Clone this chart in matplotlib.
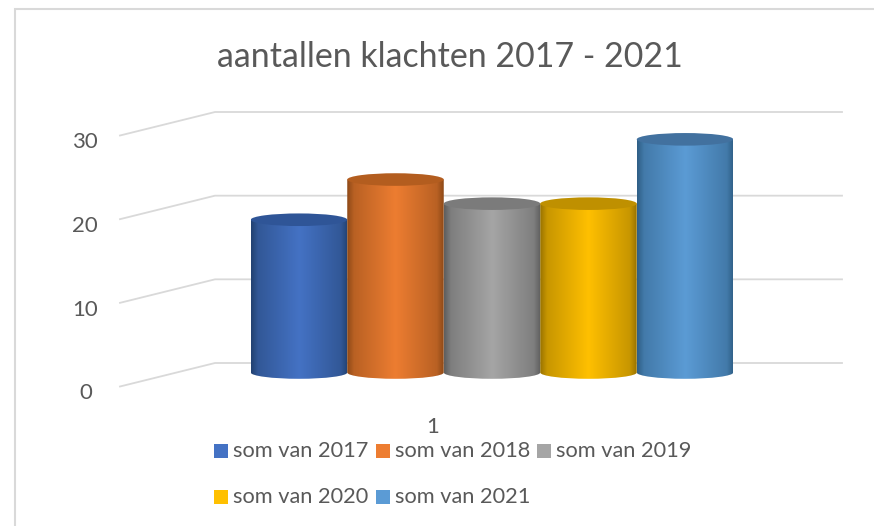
import numpy as np
import matplotlib
matplotlib.use("Agg")
import matplotlib.pyplot as plt
from matplotlib.colors import LinearSegmentedColormap, to_rgb
from matplotlib.patches import Ellipse, PathPatch, Rectangle
from matplotlib.path import Path

title = "aantallen klachten 2017 - 2021"
series = ["som van 2017", "som van 2018", "som van 2019", "som van 2020", "som van 2021"]
values = [19, 24, 21, 21, 29]
yticks = [0, 10, 20, 30]
category = "1"
colors = ["#4472C4", "#ED7D31", "#A5A5A5", "#FFC000", "#5B9BD5"]
edges = ["#234272", "#8F4A18", "#5F5F5F", "#9A7400", "#2F5F86"]
tops = ["#2F5597", "#B35D1F", "#7B7B7B", "#BF9000", "#42719F"]

W, H = 874, 526
TXT = "#595959"
GRID = "#D9D9D9"
plt.rcParams["font.family"] = ["Lato", "DejaVu Sans"]

fig = plt.figure(figsize=(W / 100, H / 100), dpi=100)


def axes_px(x0, x1, ytop, ybot, **kw):
    return fig.add_axes([x0 / W, 1 - ybot / H, (x1 - x0) / W, (ybot - ytop) / H], **kw)


# chart frame
bg = axes_px(0, W, 0, H)
bg.set_xlim(0, W)
bg.set_ylim(H, 0)
bg.axis("off")
bg.plot([15, 15, W], [H, 8.5, 8.5], color=GRID, lw=1.5, solid_joinstyle="miter")

# back wall axes: value units, y 0 at 363 px, 30 at 112 px
wall = axes_px(120, 842, 112, 363)
wall.set_xlim(0, 1)
wall.set_ylim(0, 30)
wall.axis("off")
depth_x = 95 / 722
depth_y = 23.5 / (251 / 30)
for v in yticks:
    wall.plot([0, depth_x, 1], [v - depth_y, v, v], color=GRID, lw=1.3, clip_on=False)
    wall.text(-0.048, v - depth_y - 0.8, str(v), ha="center", va="center",
              color=TXT, fontsize=16, clip_on=False)

# bars: x in series units, y in value units; 0 at 372.5 px, 8.04 px per unit
xw = 96.5
scale = 8.04
ymin, ymax = -1, 32
bars = axes_px(299 - 0.5 * xw, 299 + 4.5 * xw, 372.5 - scale * ymax, 372.5 - scale * ymin,
               facecolor="none")
ry = 6.3 / scale
k = 0.5523
for i, (val, col, ed, tp) in enumerate(zip(values, colors, edges, tops)):
    l, r = i - 0.5, i + 0.5
    mid = tuple(0.55 * np.array(to_rgb(ed)) + 0.45 * np.array(to_rgb(col)))
    cmap = LinearSegmentedColormap.from_list(
        "c", [(0, ed), (0.07, mid), (0.5, col), (0.93, mid), (1, ed)])
    im = bars.imshow(np.linspace(0, 1, 200)[None, :], cmap=cmap, aspect="auto",
                     extent=(l, r, -ry, val), zorder=3 + i, interpolation="bilinear")
    verts = [(l, val), (l, 0), (l, -k * ry), (i - k * 0.5, -ry), (i, -ry),
             (i + k * 0.5, -ry), (r, -k * ry), (r, 0), (r, val), (l, val)]
    codes = [Path.MOVETO, Path.LINETO, Path.CURVE4, Path.CURVE4, Path.CURVE4,
             Path.CURVE4, Path.CURVE4, Path.CURVE4, Path.LINETO, Path.CLOSEPOLY]
    clip = PathPatch(Path(verts, codes), transform=bars.transData, fc="none", ec="none")
    bars.add_patch(clip)
    im.set_clip_path(clip)
    bars.add_patch(Ellipse((i, val), 1, 2 * ry, fc=tp, ec="none", zorder=3 + i + 0.5))
bars.set_xlim(-0.5, 4.5)
bars.set_ylim(ymin, ymax)
bars.axis("off")

# text and legend
bg.set_zorder(0)
wall.set_zorder(1)
bars.set_zorder(2)
bg.text(449.5, 57, title, ha="center", va="center", color=TXT, fontsize=24.4)
bg.text(433, 427, category, ha="center", va="center", color=TXT, fontsize=16)

legend_pos = [(214, 451), (376, 451), (537, 451), (214, 497), (376, 497)]
for (x, y), name, col in zip(legend_pos, series, colors):
    bg.add_patch(Rectangle((x, y - 7), 14, 14, fc=col, ec="none"))
    bg.text(x + 19, y, name, ha="left", va="center", color=TXT, fontsize=15.7)

fig.savefig("out.png", dpi=100)
